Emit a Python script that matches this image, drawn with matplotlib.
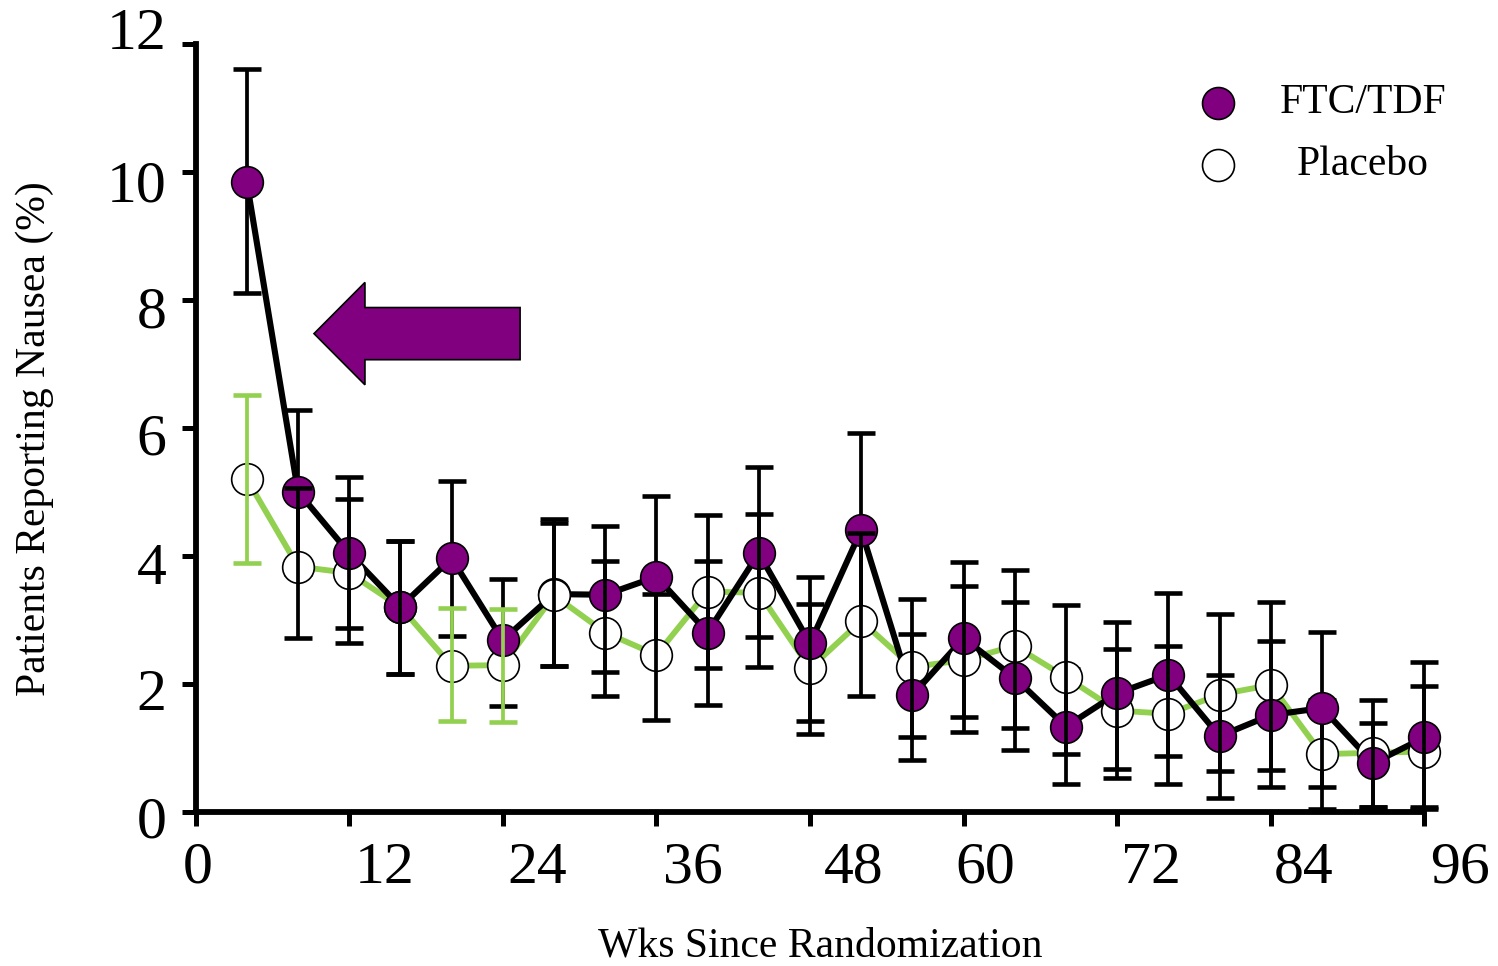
import matplotlib
matplotlib.use("Agg")
import matplotlib.pyplot as plt
from matplotlib.lines import Line2D
from matplotlib.patches import FancyArrow
from matplotlib.transforms import ScaledTranslation

plt.rcParams['font.family'] = ['Liberation Serif', 'DejaVu Serif']

# ---------------- data ----------------
weeks = [4, 8, 12, 16, 20, 24, 28, 32, 36, 40, 44, 48,
         52, 56, 60, 64, 68, 72, 76, 80, 84, 88, 92, 96]

ftc = [9.84, 5.00, 4.04, 3.20, 3.96, 2.68, 3.40, 3.39, 3.67, 2.80, 4.04, 2.63,
       4.40, 1.82, 2.71, 2.09, 1.33, 1.85, 2.14, 1.18, 1.51, 1.62, 0.76, 1.16]
ftc_lo = [8.10, 3.72, 2.87, 2.15, 2.75, 1.65, 2.28, 2.19, 2.40, 1.67, 2.73, 1.41,
          2.90, 0.81, 1.48, 0.96, 0.43, 0.66, 0.87, 0.22, 0.38, 0.39, 0.08, 0.05]
ftc_hi = [11.60, 6.28, 5.23, 4.23, 5.16, 3.63, 4.58, 4.47, 4.94, 3.92, 5.39, 3.67,
          5.91, 2.78, 3.90, 3.28, 2.23, 2.97, 3.41, 2.14, 2.67, 2.81, 1.38, 2.34]

placebo = [5.20, 3.83, 3.73, 3.20, 2.28, 2.29, 3.38, 2.80, 2.45, 3.44, 3.42, 2.24,
           2.98, 2.26, 2.37, 2.59, 2.10, 1.58, 1.53, 1.83, 1.98, 0.90, 0.92, 0.94]
pl_lo = [3.89, 2.72, 2.63, 2.15, 1.41, 1.40, 2.28, 1.81, 1.43, 2.24, 2.26, 1.21,
         1.81, 1.17, 1.25, 1.31, 0.90, 0.52, 0.43, 0.64, 0.65, 0.05, 0.08, 0.08]
pl_hi = [6.51, 5.06, 4.88, 4.23, 3.19, 3.17, 4.51, 3.91, 3.40, 4.63, 4.65, 3.24,
         4.35, 3.32, 3.53, 3.77, 3.23, 2.55, 2.59, 3.09, 3.28, 1.75, 1.75, 1.97]
# weeks at which the placebo error bar is drawn in green
pl_green_weeks = [4, 20, 24]
# weeks where the placebo marker sits on top of the FTC/TDF marker
pl_marker_on_top_weeks = [28]
# weeks where the placebo error bar lies beneath the FTC/TDF marker
pl_bar_below_weeks = [88]

x_ticks = [0, 12, 24, 36, 48, 60, 72, 84, 96]
y_ticks = [0, 2, 4, 6, 8, 10, 12]

series_names = ['FTC/TDF', 'Placebo']
x_title = 'Wks Since Randomization'
y_title = 'Patients Reporting Nausea (%)'

# ---------------- style ----------------
PURPLE = '#800080'
GREEN = '#92D050'
W, H, DPI = 1498, 966, 100

fig = plt.figure(figsize=(W / DPI, H / DPI), dpi=DPI)
ax = fig.add_axes([195.6 / W, 1 - 811.7 / H, (1424.4 - 195.6) / W, (811.7 - 43.7) / H])
ax.set_xlim(0, 96)
ax.set_ylim(0, 12)

ms = 22.8
# lines
ax.plot(weeks, placebo, color=GREEN, lw=4.2, zorder=2, clip_on=False)
ax.plot(weeks, ftc, color='black', lw=4.4, zorder=3, clip_on=False)

# FTC error bars (below markers)
ftc_err = [[m - l for m, l in zip(ftc, ftc_lo)], [h - m for m, h in zip(ftc, ftc_hi)]]
eb = ax.errorbar(weeks, ftc, yerr=ftc_err, fmt='none', ecolor='black', elinewidth=2.7,
                 capsize=10, capthick=3.3, zorder=3.5)
for art in list(eb.lines[1]) + list(eb.lines[2]):
    art.set_clip_on(False)

# markers
ax.plot(weeks, placebo, 'o', ms=ms, mfc='white', mec='black', mew=1.2, zorder=4, clip_on=False)
for wk, v in zip(weeks, ftc):
    z = 3.8 if wk in pl_marker_on_top_weeks else 5
    ax.plot([wk], [v], 'o', ms=ms, mfc=PURPLE, mec='black', mew=1.2, zorder=z, clip_on=False)

# placebo error bars (mostly on top)
for wk, m, l, h in zip(weeks, placebo, pl_lo, pl_hi):
    c = GREEN if wk in pl_green_weeks else 'black'
    z = 4.5 if wk in pl_bar_below_weeks else 6
    e = ax.errorbar([wk], [m], yerr=[[m - l], [h - m]], fmt='none', ecolor=c,
                    elinewidth=2.7, capsize=10, capthick=3.3, zorder=z)
    for art in list(e.lines[1]) + list(e.lines[2]):
        art.set_clip_on(False)

# arrow
arrow = FancyArrow(25.35, 7.47, -16.1, 0, width=0.815, head_width=1.6, head_length=3.98,
                   length_includes_head=True, facecolor=PURPLE, edgecolor='black',
                   lw=1.2, zorder=7)
ax.add_patch(arrow)

# axes styling
for s in ['top', 'right']:
    ax.spines[s].set_visible(False)
for s in ['left', 'bottom']:
    ax.spines[s].set_linewidth(4.2)
    ax.spines[s].set_capstyle('projecting')
ax.set_xticks(x_ticks)
ax.set_yticks(y_ticks)
ax.tick_params(axis='both', direction='out', width=3.6, length=10, labelleft=False,
               labelbottom=False)

# tick labels (manually offset, as in the source figure)
x_dx = [2, 35, 34, 36, 44, 22, 34, 33, 36]
for t, dx in zip(x_ticks, x_dx):
    tr = ax.get_xaxis_transform() + ScaledTranslation(dx / DPI, -57 / DPI, fig.dpi_scale_trans)
    ax.text(t, 0, str(t), transform=tr, ha='center', va='center', fontsize=43, clip_on=False)
y_dy = [12, 12, 14, 13, 14, 16, -9]
for t, dy in zip(y_ticks, y_dy):
    tr = ax.get_yaxis_transform() + ScaledTranslation(-29 / DPI, -dy / DPI, fig.dpi_scale_trans)
    ax.text(0, t, str(t), transform=tr, ha='right', va='center', fontsize=43, clip_on=False)

fig.text(820 / W, 1 - 946 / H, x_title, ha='center', va='center', fontsize=30)
fig.text(35 / W, 1 - 439 / H, y_title, ha='center', va='center', rotation=90, fontsize=30)

# legend
leg_y = [103, 165]
fcs = [PURPLE, 'white']
for name, yy, fc in zip(series_names, leg_y, fcs):
    fig.add_artist(Line2D([1218 / W], [1 - yy / H], marker='o', ms=23, mfc=fc, mec='black',
                          mew=1.2, linestyle='none', transform=fig.transFigure))
    fig.text(1363 / W, 1 - yy / H, name, ha='center', va='center', fontsize=30)

fig.savefig('out.png', dpi=DPI)
